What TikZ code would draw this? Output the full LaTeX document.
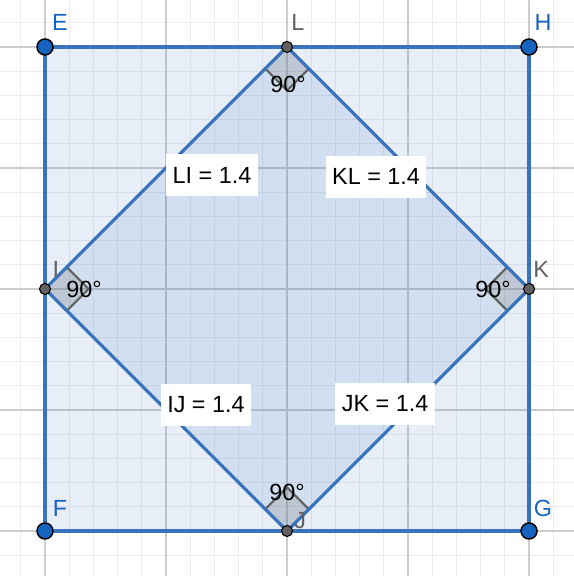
\documentclass[tikz,border=0pt]{standalone}
\usepackage{fontspec}
\setmainfont{Liberation Sans}
\usepackage{tikz}
\usetikzlibrary{positioning, backgrounds}

\definecolor{geoline}{RGB}{57,115,190}
\definecolor{geopoint}{RGB}{21,101,192}
\definecolor{geogray}{RGB}{97,97,97}

\begin{document}
\begin{tikzpicture}[x=4cm, y=4cm, font=\fontsize{11}{13}\selectfont,
    minorgrid/.style={draw=gray!15, line width=0.5pt},
    majorgrid/.style={draw=gray!40, line width=0.6pt},
    edge/.style={draw=geoline, line width=1.5pt, line join=round},
    bluept/.style={circle, draw=black, line width=0.7pt, fill=geopoint, inner sep=0pt, minimum size=7.5pt},
    graypt/.style={circle, draw=black, line width=0.5pt, fill=geogray, inner sep=0pt, minimum size=5.2pt},
    bluelab/.style={text=geopoint, inner sep=0pt},
    graylab/.style={text=geogray, inner sep=0pt},
    lenbox/.style={fill=white, inner xsep=3pt, minimum height=20pt},
    rightmark/.style={fill=gray, fill opacity=0.25},
    markside/.style={draw=geogray, line width=1pt},
    angtext/.style={inner sep=0pt}]

    \useasboundingbox (-1.186,-1.186) rectangle (1.182,1.194);
    \clip (-1.186,-1.186) rectangle (1.182,1.194);

    % corner points of the square and the diamond
    \node [bluept] (E) at (-1,1) {};
    \node [bluept] (H) at (1,1) {};
    \node [bluept] (G) at (1,-1) {};
    \node [bluept] (F) at (-1,-1) {};
    \node [graypt] (L) at (0,1) {};
    \node [graypt] (K) at (1,0) {};
    \node [graypt] (J) at (0,-1) {};
    \node [graypt] (I) at (-1,0) {};

    \begin{scope}[on background layer]
        % grid
        \foreach \k in {-12,...,12}
        {
            \path [minorgrid] (\k/10,-1.3) -- (\k/10,1.3);
            \path [minorgrid] (-1.3,\k/10) -- (1.3,\k/10);
        }
        \foreach \k in {-1,-0.5,0,0.5,1}
        {
            \path [majorgrid] (\k,-1.3) -- (\k,1.3);
            \path [majorgrid] (-1.3,\k) -- (1.3,\k);
        }
        % fills
        \fill [geoline, fill opacity=0.12] (E.center) -- (H.center) -- (G.center) -- (F.center) -- cycle;
        \fill [geoline, fill opacity=0.12] (L.center) -- (K.center) -- (J.center) -- (I.center) -- cycle;
        % right angle marks
        \path [rightmark] (L.center) -- ++(-0.09,-0.09) -- ++(0.09,-0.09) -- ++(0.09,0.09) -- cycle;
        \path [rightmark] (K.center) -- ++(-0.09,0.09) -- ++(-0.09,-0.09) -- ++(0.09,-0.09) -- cycle;
        \path [rightmark] (J.center) -- ++(-0.09,0.09) -- ++(0.09,0.09) -- ++(0.09,-0.09) -- cycle;
        \path [rightmark] (I.center) -- ++(0.09,0.09) -- ++(0.09,-0.09) -- ++(-0.09,-0.09) -- cycle;
        \path [markside] (L.center) ++(-0.09,-0.09) -- ++(0.09,-0.09) -- ++(0.09,0.09);
        \path [markside] (K.center) ++(-0.09,0.09) -- ++(-0.09,-0.09) -- ++(0.09,-0.09);
        \path [markside] (J.center) ++(-0.09,0.09) -- ++(0.09,0.09) -- ++(0.09,-0.09);
        \path [markside] (I.center) ++(0.09,0.09) -- ++(0.09,-0.09) -- ++(-0.09,-0.09);
        % edges
        \path [edge] (E.center) -- (H.center) -- (G.center) -- (F.center) -- cycle;
        \path [edge] (L.center) -- (K.center) -- (J.center) -- (I.center) -- cycle;
    \end{scope}

    % side lengths
    \node [lenbox] (LIlen) at (-0.310,0.471) {LI = 1.4};
    \node [lenbox] (KLlen) at (0.368,0.463) {KL = 1.4};
    \node [lenbox] (IJlen) at (-0.335,-0.479) {IJ = 1.4};
    \node [lenbox] (JKlen) at (0.405,-0.475) {JK = 1.4};

    % angles
    \node [angtext] (Lang) at (0.004,0.847) {90°};
    \node [angtext] (Kang) at (0.851,-0.004) {90°};
    \node [angtext] (Jang) at (0,-0.839) {90°};
    \node [angtext] (Iang) at (-0.839,-0.004) {90°};

    % point names
    \node [bluelab] (Elab) at (-0.938,1.103) {E};
    \node [bluelab] (Hlab) at (1.058,1.103) {H};
    \node [bluelab] (Flab) at (-0.938,-0.905) {F};
    \node [bluelab] (Glab) at (1.058,-0.905) {G};
    \node [graylab] (Llab) at (0.045,1.103) {L};
    \node [graylab] (Klab) at (1.050,0.079) {K};
    \node [graylab] (Jlab) at (0.054,-0.955) {J};
    \node [graylab] (Ilab) at (-0.955,0.079) {I};

\end{tikzpicture}
\end{document}
